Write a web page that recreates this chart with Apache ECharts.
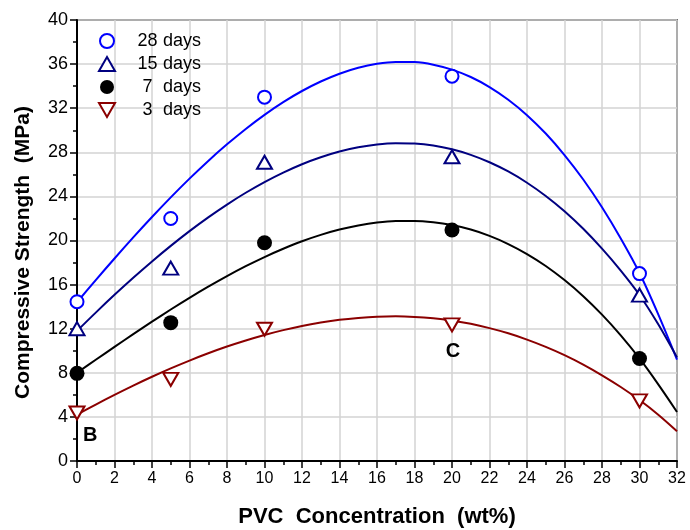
<!DOCTYPE html>
<html>
<head>
<meta charset="utf-8">
<script src="https://cdn.jsdelivr.net/npm/echarts@6/dist/echarts.min.js"></script>
<style>
  html, body { margin: 0; padding: 0; background: #fff; }
  #chart { width: 690px; height: 530px; }
</style>
</head>
<body>
<div id="chart"></div>
<script>
  // measured points (PVC wt%, MPa)
  const xPoints = [0, 5, 10, 20, 30]
  const days28 = [14.45, 22.0, 33.0, 34.9, 17.0]
  const days15 = [12.0, 17.5, 27.1, 27.6, 15.05]
  const days7 = [7.95, 12.55, 19.8, 20.95, 9.3]
  const days3 = [4.35, 7.4, 11.95, 12.35, 5.45]

  // fitted curves, one value per 1 wt%
  const xFit = [0, 1, 2, 3, 4, 5, 6, 7, 8, 9, 10, 11, 12, 13, 14, 15, 16, 17, 18, 19, 20, 21, 22, 23, 24, 25, 26, 27, 28, 29, 30, 31, 32]
  const fit28 = [14.4, 16.41, 18.37, 20.28, 22.13, 23.91, 25.61, 27.22, 28.72, 30.12, 31.4, 32.55, 33.56, 34.42, 35.13, 35.67, 36.03, 36.2, 36.18, 35.95, 35.5, 34.83, 33.92, 32.77, 31.37, 29.7, 27.75, 25.53, 23.01, 20.18, 17.05, 13.3, 9.2]
  const fit15 = [11.8, 13.46, 15.07, 16.62, 18.1, 19.51, 20.85, 22.1, 23.26, 24.33, 25.3, 26.16, 26.92, 27.55, 28.07, 28.45, 28.71, 28.82, 28.79, 28.61, 28.27, 27.77, 27.1, 26.26, 25.24, 24.04, 22.65, 21.06, 19.26, 17.27, 15.06, 12.4, 9.4]
  const fit7 = [8.0, 9.18, 10.35, 11.51, 12.64, 13.74, 14.8, 15.81, 16.77, 17.67, 18.5, 19.25, 19.93, 20.51, 20.99, 21.36, 21.63, 21.77, 21.78, 21.66, 21.4, 20.99, 20.42, 19.68, 18.77, 17.69, 16.41, 14.95, 13.28, 11.4, 9.3, 6.95, 4.45]
  const fit3 = [4.2, 5.12, 6.0, 6.84, 7.64, 8.4, 9.11, 9.77, 10.38, 10.93, 11.43, 11.87, 12.25, 12.56, 12.81, 12.98, 13.09, 13.12, 13.07, 12.94, 12.73, 12.44, 12.05, 11.58, 11.01, 10.35, 9.6, 8.74, 7.77, 6.71, 5.53, 4.2, 2.7]

  const seriesNames = ['28 days', '15 days', '7 days', '3 days']
  const annotations = [['B', 0.7, 2.35], ['C', 20.05, 9.95]]

  const zip = (xs, ys) => xs.map((x, i) => [x, ys[i]])
  const downTri = 'path://M0,0 L12,0 L6,10.4 Z'
  const font = 'Liberation Sans, Arial, sans-serif'

  const chart = echarts.init(document.getElementById('chart'))

  function fitLine (name, data, color) {
    return {
      name: name,
      type: 'line',
      data: zip(xFit, data),
      smooth: 0.3,
      showSymbol: false,
      silent: true,
      lineStyle: { color: color, width: 2 },
      z: 2
    }
  }

  function points (name, data, symbol, size, fill, stroke, width) {
    return {
      name: name,
      type: 'scatter',
      data: zip(xPoints, data),
      symbol: symbol,
      symbolSize: size,
      itemStyle: { color: fill, borderColor: stroke, borderWidth: width, opacity: 1 },
      z: 5
    }
  }

  const axisCommon = {
    axisLine: { show: true, lineStyle: { color: '#000', width: 2 } },
    axisTick: { show: true, inside: false, length: 7, lineStyle: { color: '#000', width: 1.5 } },
    minorTick: { show: true, splitNumber: 2, length: 4, lineStyle: { color: '#000', width: 1.5 } },
    splitLine: { show: true, lineStyle: { color: '#d3d3d3', width: 1.5 } }
  }

  const option = {
    animation: false,
    backgroundColor: '#fff',
    grid: {
      left: 77,
      right: 13,
      top: 20,
      bottom: 69,
      containLabel: false,
      outerBoundsMode: 'none',
      show: true,
      borderColor: '#000',
      borderWidth: 1.5
    },
    legend: {
      data: seriesNames,
      orient: 'vertical',
      left: 93,
      top: 27,
      itemGap: 5,
      itemWidth: 16,
      itemHeight: 14,
      textStyle: {
        fontFamily: font,
        fontSize: 18,
        color: '#000',
        rich: {
          n: { width: 31, align: 'center', padding: [0, 0, 0, 12], fontSize: 18, lineHeight: 20, fontFamily: font, color: '#000' },
          d: { fontSize: 18, lineHeight: 20, fontFamily: font, color: '#000' }
        }
      },
      formatter: function (name) {
        const parts = name.split(' ')
        return '{n|' + parts[0] + '}{d|' + parts[1] + '}'
      }
    },
    xAxis: Object.assign({
      type: 'value',
      min: 0,
      max: 32,
      interval: 2,
      name: 'PVC  Concentration  (wt%)',
      nameLocation: 'middle',
      nameGap: 45,
      nameTextStyle: { fontFamily: font, fontWeight: 'bold', fontSize: 22, color: '#000' },
      axisLabel: { fontFamily: font, fontSize: 16, color: '#000', margin: 10 }
    }, axisCommon),
    yAxis: Object.assign({
      type: 'value',
      min: 0,
      max: 40,
      interval: 4,
      name: 'Compressive Strength  (MPa)',
      nameLocation: 'middle',
      nameGap: 43,
      nameTextStyle: { fontFamily: font, fontWeight: 'bold', fontSize: 21, color: '#000', padding: [0, 24, 0, 0] },
      axisLabel: { fontFamily: font, fontSize: 18, color: '#000', margin: 9 }
    }, axisCommon),
    series: [
      fitLine('fit 28', fit28, '#0000ff'),
      fitLine('fit 15', fit15, '#000080'),
      fitLine('fit 7', fit7, '#000000'),
      fitLine('fit 3', fit3, '#8b0000'),
      points(seriesNames[0], days28, 'circle', 13, '#fff', '#0000ff', 2),
      points(seriesNames[1], days15, 'triangle', [15, 13], '#fff', '#000080', 2),
      points(seriesNames[2], days7, 'circle', 15, '#000', '#000', 0),
      points(seriesNames[3], days3, downTri, [15, 13], '#fff', '#8b0000', 2),
      {
        name: 'notes',
        type: 'scatter',
        data: annotations.map(a => ({ value: [a[1], a[2]], name: a[0] })),
        symbolSize: 0,
        silent: true,
        itemStyle: { color: 'rgba(0,0,0,0)', opacity: 1 },
        label: {
          show: true,
          position: 'inside',
          formatter: '{b}',
          fontFamily: font,
          fontWeight: 'bold',
          fontSize: 20,
          color: '#000'
        },
        z: 6
      }
    ]
  }
  chart.setOption(option)
</script>
</body>
</html>
